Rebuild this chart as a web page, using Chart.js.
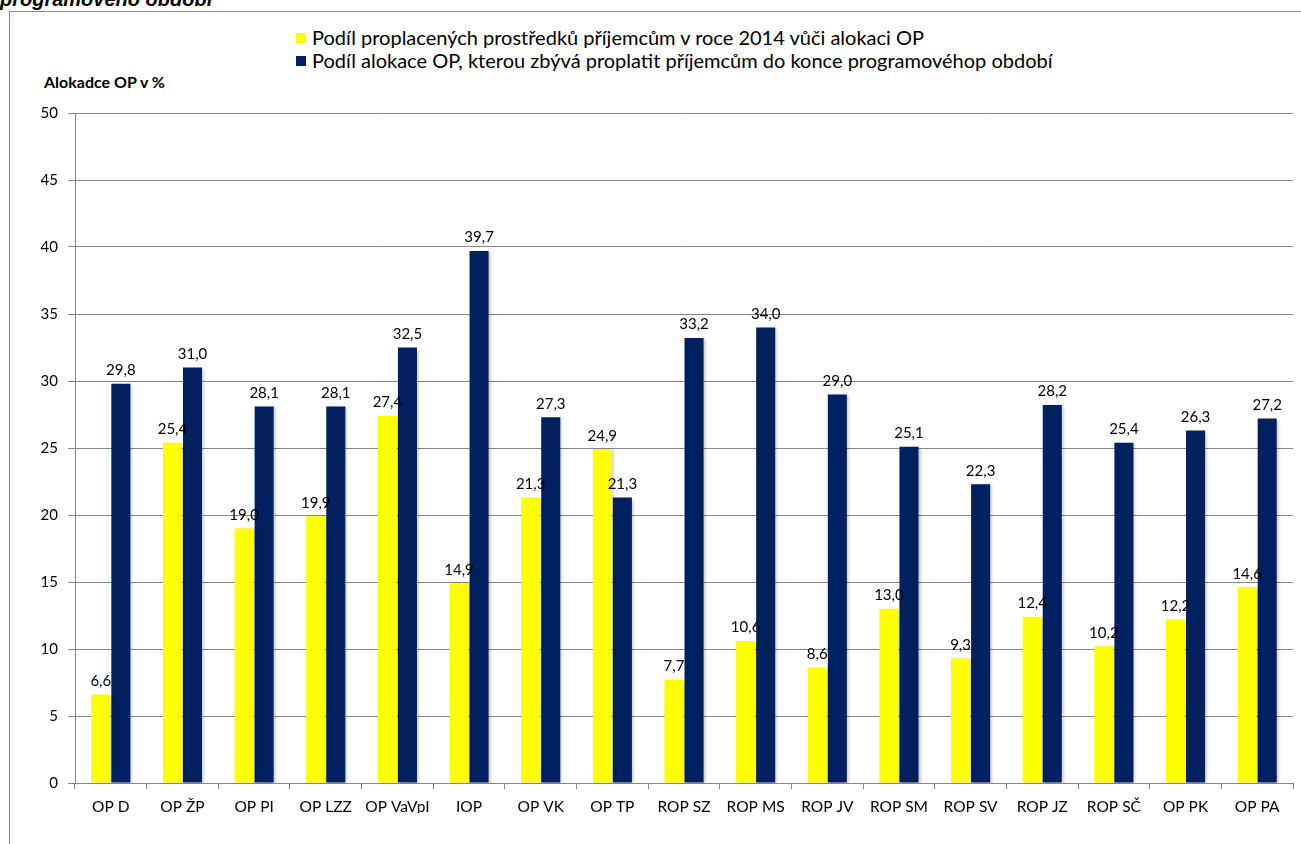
<!DOCTYPE html>
<html>
<head>
<meta charset="utf-8">
<script src="https://cdn.jsdelivr.net/npm/chart.js@4"></script>
<style>
  html, body { margin: 0; padding: 0; background: #fff; }
  body { width: 1301px; height: 844px; position: relative; overflow: hidden; font-family: Lato, "Open Sans", sans-serif; }
  #frame { position: absolute; left: 9px; top: 11px; width: 1400px; height: 900px; border-left: 1px solid #8c8c8c; border-top: 1px solid #8c8c8c; }
  #title { position: absolute; left: 0; top: -12px; font: italic bold 20px "Liberation Sans", Arial, sans-serif; color: #000; white-space: nowrap; }
  #legend { position: absolute; left: 296px; top: 26px; font-size: 20px; color: #000; line-height: 23px; }
  #legend .item { display: flex; align-items: center; white-space: nowrap; }
  #legend .box { width: 10px; height: 10px; margin-right: 6px; }
  #ytitle { position: absolute; left: 44px; top: 72px; font-weight: bold; font-size: 16px; color: #000; }
  #wrap { position: absolute; left: 0; top: 0; width: 1301px; height: 844px; }
</style>
</head>
<body>
<div id="frame"></div>
<div id="title">programového období</div>
<div id="legend"></div>
<div id="ytitle">Alokadce OP v %</div>
<div id="wrap"><canvas id="myChart"></canvas></div>
<script>
const categories = ['OP D', 'OP ŽP', 'OP PI', 'OP LZZ', 'OP VaVpI', 'IOP', 'OP VK', 'OP TP', 'ROP SZ', 'ROP MS', 'ROP JV', 'ROP SM', 'ROP SV', 'ROP JZ', 'ROP SČ', 'OP PK', 'OP PA'];
const paidShare = [6.6, 25.4, 19.0, 19.9, 27.4, 14.9, 21.3, 24.9, 7.7, 10.6, 8.6, 13.0, 9.3, 12.4, 10.2, 12.2, 14.6];
const remainingShare = [29.8, 31.0, 28.1, 28.1, 32.5, 39.7, 27.3, 21.3, 33.2, 34.0, 29.0, 25.1, 22.3, 28.2, 25.4, 26.3, 27.2];
const seriesNames = [
  'Podíl proplacených prostředků příjemcům v roce 2014 vůči alokaci OP',
  'Podíl alokace OP, kterou zbývá proplatit příjemcům do konce programovéhop období'
];
const seriesColors = ['#ffff00', '#002060'];
const yTicks = [0, 5, 10, 15, 20, 25, 30, 35, 40, 45, 50];

const fmt = v => v.toFixed(1).replace('.', ',');

// legend drawn as html so both rows start at the same x
const legendEl = document.getElementById('legend');
seriesNames.forEach((name, i) => {
  const row = document.createElement('div');
  row.className = 'item';
  row.innerHTML = '<span class="box" style="background:' + seriesColors[i] + '"></span><span></span>';
  row.lastChild.textContent = name;
  legendEl.appendChild(row);
});

const barShadow = {
  id: 'barShadow',
  beforeDatasetsDraw(chart) {
    const ctx = chart.ctx;
    ctx.save();
    ctx.shadowColor = 'rgba(0,0,0,0.22)';
    ctx.shadowOffsetX = 2;
    ctx.shadowOffsetY = 1;
    ctx.shadowBlur = 3;
  },
  afterDatasetsDraw(chart) {
    chart.ctx.restore();
  }
};

const valueLabels = {
  id: 'valueLabels',
  afterDatasetsDraw(chart) {
    const ctx = chart.ctx;
    ctx.save();
    ctx.shadowColor = 'transparent';
    ctx.font = '15px Lato, "Open Sans", sans-serif';
    ctx.fillStyle = '#000';
    ctx.textAlign = 'center';
    ctx.textBaseline = 'bottom';
    chart.data.datasets.forEach((ds, di) => {
      chart.getDatasetMeta(di).data.forEach((bar, i) => {
        ctx.fillText(fmt(ds.data[i]), bar.x, bar.y - 6);
      });
    });
    ctx.restore();
  }
};

const ctx = document.getElementById('myChart').getContext('2d');
new Chart(ctx, {
  type: 'bar',
  data: {
    labels: categories,
    datasets: [
      { label: seriesNames[0], data: paidShare, backgroundColor: seriesColors[0] },
      { label: seriesNames[1], data: remainingShare, backgroundColor: seriesColors[1] }
    ]
  },
  options: {
    responsive: true,
    maintainAspectRatio: false,
    animation: false,
    categoryPercentage: 0.56,
    barPercentage: 0.95,
    layout: { padding: { top: 113, right: 8, bottom: 31, left: 0 } },
    plugins: {
      legend: { display: false },
      tooltip: { enabled: false }
    },
    scales: {
      x: {
        grid: { display: true, drawOnChartArea: false, drawTicks: true, tickLength: 6, color: '#868686', offset: true },
        border: { color: '#868686' },
        ticks: { color: '#000', font: { family: 'Lato', size: 15.5 }, padding: 9, maxRotation: 0, autoSkip: false },
        afterFit(scale) { scale.height = 30; }
      },
      y: {
        min: 0,
        max: 50,
        afterBuildTicks(scale) { scale.ticks = yTicks.map(v => ({ value: v })); },
        grid: { color: '#868686', tickLength: 7 },
        border: { color: '#868686' },
        ticks: { color: '#000', font: { family: 'Lato', size: 15 }, padding: 10 },
        afterFit(scale) { scale.width = 75; }
      }
    }
  },
  plugins: [barShadow, valueLabels]
});
</script>
</body>
</html>
